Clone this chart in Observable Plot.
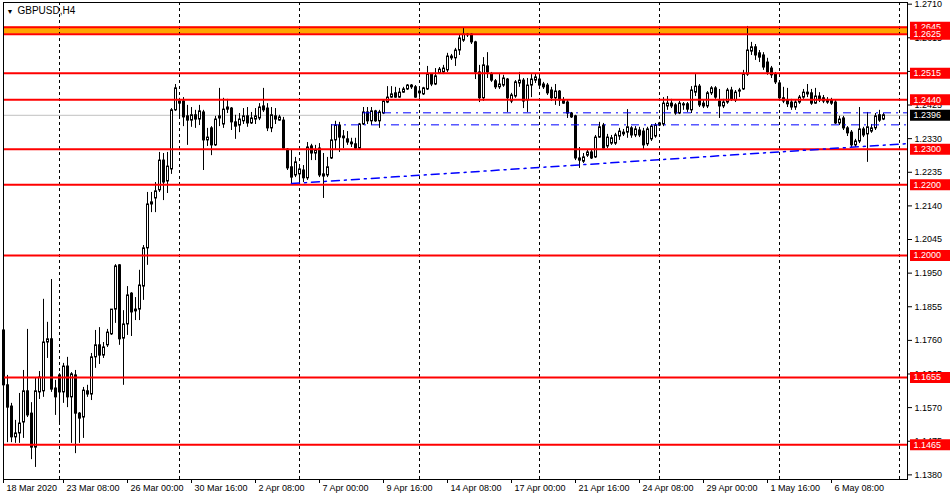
<!DOCTYPE html>
<html><head><meta charset="utf-8">
<script src="https://cdn.jsdelivr.net/npm/d3@7"></script>
<script src="https://cdn.jsdelivr.net/npm/@observablehq/plot@0.6"></script>
<style>
html,body{margin:0;padding:0;background:#fff;overflow:hidden}
</style></head><body>
<div id="chart"></div>
<script>
// ---- data (GBPUSD H4, bar index 0 = 18 Mar 2020 20:00) ----
const openArr = [1.1788,1.1633,1.1573,1.1486,1.1497,1.1528,1.1616,1.1553,1.1457,1.1613,
1.1616,1.1754,1.1763,1.1624,1.1661,1.1613,1.1686,1.1599,1.1661,1.1553,
1.1542,1.1616,1.1607,1.1712,1.1746,1.1717,1.1746,1.1777,1.1847,1.1972,
1.1765,1.1805,1.1892,1.1847,1.1847,1.1912,1.2020,1.2144,1.2161,1.2184,
1.2268,1.2209,1.2243,1.2410,1.2435,1.2435,1.2393,1.2381,1.2396,1.2384,
1.2404,1.2325,1.2359,1.2311,1.2387,1.2370,1.2418,1.2415,1.2376,1.2367,
1.2379,1.2393,1.2373,1.2384,1.2387,1.2421,1.2415,1.2359,1.2393,1.2381,
1.2381,1.2299,1.2249,1.2226,1.2229,1.2240,1.2218,1.2308,1.2288,1.2302,
1.2229,1.2226,1.2274,1.2325,1.2367,1.2336,1.2328,1.2319,1.2314,1.2302,
1.2370,1.2404,1.2379,1.2407,1.2379,1.2401,1.2432,1.2446,1.2458,1.2446,
1.2460,1.2469,1.2480,1.2475,1.2458,1.2455,1.2469,1.2511,1.2483,1.2514,
1.2517,1.2523,1.2557,1.2557,1.2579,1.2607,1.2622,1.2624,1.2602,1.2517,
1.2444,1.2534,1.2511,1.2492,1.2475,1.2480,1.2497,1.2435,1.2449,1.2486,
1.2494,1.2438,1.2480,1.2494,1.2497,1.2483,1.2480,1.2466,1.2444,1.2463,
1.2438,1.2432,1.2401,1.2393,1.2274,1.2265,1.2282,1.2291,1.2277,1.2333,
1.2367,1.2308,1.2316,1.2316,1.2336,1.2342,1.2347,1.2359,1.2339,1.2353,
1.2350,1.2314,1.2328,1.2336,1.2373,1.2370,1.2421,1.2429,1.2424,1.2401,
1.2424,1.2427,1.2410,1.2460,1.2477,1.2429,1.2421,1.2458,1.2472,1.2435,
1.2421,1.2432,1.2466,1.2438,1.2463,1.2469,1.2511,1.2576,1.2588,1.2571,
1.2565,1.2545,1.2528,1.2511,1.2486,1.2444,1.2438,1.2432,1.2418,1.2432,
1.2446,1.2460,1.2458,1.2429,1.2449,1.2444,1.2438,1.2438,1.2432,1.2373,
1.2387,1.2359,1.2347,1.2311,1.2322,1.2356,1.2342,1.2350,1.2359,1.2396,
1.2384];
const highArr = [1.1847,1.1661,1.1582,1.1534,1.1610,1.1675,1.1791,1.1584,1.1655,1.1672,
1.1876,1.1811,1.1932,1.1647,1.1666,1.1695,1.1712,1.1669,1.1675,1.1556,
1.1627,1.1633,1.1723,1.1788,1.1796,1.1754,1.1791,1.1827,1.1974,1.1974,
1.1844,1.1912,1.1895,1.1881,1.1958,1.2028,1.2178,1.2178,1.2206,1.2291,
1.2288,1.2291,1.2415,1.2483,1.2444,1.2446,1.2424,1.2418,1.2410,1.2424,
1.2410,1.2359,1.2364,1.2393,1.2472,1.2444,1.2441,1.2418,1.2396,1.2401,
1.2415,1.2418,1.2404,1.2415,1.2429,1.2472,1.2429,1.2418,1.2415,1.2396,
1.2390,1.2302,1.2297,1.2277,1.2254,1.2254,1.2319,1.2314,1.2311,1.2316,
1.2288,1.2277,1.2370,1.2379,1.2376,1.2353,1.2350,1.2331,1.2331,1.2373,
1.2418,1.2418,1.2418,1.2410,1.2410,1.2438,1.2477,1.2477,1.2475,1.2472,
1.2475,1.2483,1.2483,1.2480,1.2472,1.2475,1.2534,1.2514,1.2528,1.2531,
1.2537,1.2571,1.2568,1.2585,1.2622,1.2644,1.2627,1.2627,1.2605,1.2537,
1.2559,1.2573,1.2517,1.2497,1.2511,1.2509,1.2500,1.2458,1.2494,1.2517,
1.2500,1.2500,1.2511,1.2514,1.2509,1.2489,1.2486,1.2475,1.2483,1.2466,
1.2446,1.2438,1.2404,1.2396,1.2305,1.2288,1.2297,1.2297,1.2339,1.2376,
1.2373,1.2342,1.2339,1.2345,1.2359,1.2356,1.2412,1.2364,1.2364,1.2362,
1.2359,1.2362,1.2370,1.2373,1.2376,1.2446,1.2449,1.2441,1.2429,1.2435,
1.2432,1.2432,1.2477,1.2511,1.2483,1.2438,1.2463,1.2477,1.2477,1.2469,
1.2441,1.2472,1.2475,1.2466,1.2472,1.2523,1.2647,1.2602,1.2596,1.2579,
1.2573,1.2557,1.2534,1.2517,1.2489,1.2475,1.2472,1.2441,1.2438,1.2452,
1.2469,1.2483,1.2469,1.2472,1.2460,1.2452,1.2446,1.2444,1.2438,1.2393,
1.2393,1.2364,1.2353,1.2328,1.2418,1.2362,1.2404,1.2370,1.2401,1.2410,
1.2401];
const lowArr = [1.1443,1.1471,1.1471,1.1469,1.1469,1.1483,1.1542,1.1423,1.1401,1.1593,
1.1599,1.1709,1.1613,1.1548,1.1520,1.1582,1.1570,1.1469,1.1440,1.1469,
1.1483,1.1599,1.1590,1.1681,1.1692,1.1709,1.1740,1.1774,1.1808,1.1746,
1.1633,1.1774,1.1771,1.1816,1.1816,1.1873,1.1972,1.2121,1.2121,1.2178,
1.2155,1.2175,1.2229,1.2407,1.2387,1.2364,1.2311,1.2362,1.2359,1.2367,
1.2240,1.2308,1.2282,1.2308,1.2364,1.2359,1.2401,1.2353,1.2328,1.2347,
1.2370,1.2362,1.2370,1.2370,1.2381,1.2404,1.2350,1.2347,1.2370,1.2379,
1.2297,1.2240,1.2203,1.2220,1.2203,1.2206,1.2212,1.2268,1.2268,1.2220,
1.2161,1.2220,1.2271,1.2297,1.2291,1.2302,1.2311,1.2305,1.2297,1.2299,
1.2367,1.2370,1.2367,1.2376,1.2359,1.2398,1.2429,1.2444,1.2444,1.2444,
1.2458,1.2466,1.2469,1.2444,1.2444,1.2452,1.2466,1.2477,1.2480,1.2511,
1.2511,1.2517,1.2551,1.2534,1.2565,1.2602,1.2616,1.2596,1.2497,1.2432,
1.2435,1.2500,1.2489,1.2469,1.2469,1.2475,1.2404,1.2429,1.2444,1.2475,
1.2415,1.2404,1.2446,1.2486,1.2475,1.2469,1.2452,1.2435,1.2424,1.2421,
1.2427,1.2387,1.2387,1.2268,1.2246,1.2260,1.2277,1.2271,1.2274,1.2331,
1.2297,1.2302,1.2311,1.2311,1.2325,1.2336,1.2331,1.2331,1.2333,1.2333,
1.2297,1.2308,1.2322,1.2331,1.2364,1.2364,1.2410,1.2415,1.2396,1.2398,
1.2410,1.2404,1.2401,1.2449,1.2418,1.2415,1.2415,1.2452,1.2441,1.2387,
1.2415,1.2427,1.2435,1.2432,1.2446,1.2466,1.2506,1.2565,1.2551,1.2545,
1.2523,1.2509,1.2500,1.2483,1.2438,1.2429,1.2418,1.2410,1.2410,1.2427,
1.2441,1.2446,1.2424,1.2427,1.2432,1.2429,1.2427,1.2424,1.2370,1.2367,
1.2353,1.2336,1.2305,1.2305,1.2316,1.2333,1.2263,1.2345,1.2353,1.2376,
1.2381];
const closeArr = [1.1633,1.1570,1.1486,1.1497,1.1525,1.1616,1.1548,1.1457,1.1616,1.1655,
1.1754,1.1763,1.1621,1.1599,1.1613,1.1686,1.1599,1.1664,1.1553,1.1539,
1.1618,1.1607,1.1712,1.1746,1.1717,1.1740,1.1782,1.1847,1.1969,1.1763,
1.1805,1.1887,1.1839,1.1842,1.1915,1.2020,1.2144,1.2150,1.2181,1.2268,
1.2206,1.2251,1.2410,1.2472,1.2429,1.2390,1.2381,1.2396,1.2384,1.2407,
1.2325,1.2333,1.2311,1.2384,1.2393,1.2412,1.2412,1.2376,1.2364,1.2384,
1.2393,1.2373,1.2387,1.2393,1.2418,1.2410,1.2359,1.2396,1.2384,1.2390,
1.2302,1.2246,1.2220,1.2263,1.2243,1.2218,1.2305,1.2288,1.2297,1.2226,
1.2223,1.2249,1.2325,1.2367,1.2333,1.2331,1.2319,1.2314,1.2302,1.2370,
1.2404,1.2379,1.2407,1.2379,1.2404,1.2435,1.2446,1.2455,1.2446,1.2460,
1.2469,1.2480,1.2475,1.2446,1.2463,1.2472,1.2511,1.2483,1.2506,1.2525,
1.2528,1.2562,1.2562,1.2579,1.2613,1.2624,1.2624,1.2602,1.2517,1.2444,
1.2537,1.2517,1.2494,1.2475,1.2483,1.2500,1.2444,1.2452,1.2489,1.2494,
1.2435,1.2480,1.2497,1.2503,1.2480,1.2475,1.2458,1.2444,1.2463,1.2438,
1.2429,1.2401,1.2390,1.2274,1.2268,1.2277,1.2291,1.2274,1.2333,1.2362,
1.2302,1.2333,1.2331,1.2339,1.2350,1.2347,1.2362,1.2339,1.2356,1.2339,
1.2311,1.2356,1.2364,1.2367,1.2367,1.2429,1.2429,1.2421,1.2401,1.2429,
1.2427,1.2412,1.2466,1.2477,1.2424,1.2421,1.2458,1.2472,1.2446,1.2421,
1.2432,1.2466,1.2441,1.2460,1.2466,1.2511,1.2579,1.2588,1.2565,1.2559,
1.2531,1.2517,1.2509,1.2489,1.2444,1.2435,1.2427,1.2418,1.2432,1.2446,
1.2460,1.2455,1.2429,1.2449,1.2438,1.2435,1.2432,1.2429,1.2373,1.2384,
1.2359,1.2345,1.2311,1.2322,1.2356,1.2339,1.2362,1.2359,1.2393,1.2381,
1.2396];

const timeLabels = ["18 Mar 2020","23 Mar 08:00","26 Mar 00:00","30 Mar 16:00","2 Apr 08:00",
  "7 Apr 00:00","9 Apr 16:00","14 Apr 08:00","17 Apr 00:00","21 Apr 16:00",
  "24 Apr 08:00","29 Apr 00:00","1 May 16:00","6 May 08:00"];
const timeLabelBars = [0,15,31,47,63,79,95,111,127,143,159,175,191,207];
const gridBars = [14,44,74,104,134,164,194,224];
const priceTicks = [1.1380,1.1475,1.1570,1.1665,1.1760,1.1855,1.1950,1.2045,1.2140,
  1.2235,1.2330,1.2425,1.2520,1.2615,1.2710];
const redLevels = [1.2645,1.2625,1.2515,1.2440,1.2300,1.2200,1.2000,1.1655,1.1465];
const zoneLevels = [1.2625,1.2645];
const currentPrice = 1.2396;
const rayStartBars = [90,82];
const rayLevels = [1.2403,1.2369];
const trendBars = [72,226];
const trendPrices = [1.2203,1.2316];
const symbolTitle = "GBPUSD,H4";

// ---- build ----
const bars = openArr.map((o,i)=>({i, open:o, high:highArr[i], low:lowArr[i], close:closeArr[i]}));
const bull = bars.filter(d=>d.close>=d.open);
const bear = bars.filter(d=>d.close<d.open);
const rays = rayLevels.map((v,k)=>({y:v, x1:rayStartBars[k]}));
const trend = trendBars.map((b,k)=>({x:b, y:trendPrices[k]}));

const xEnd = 226;            // right edge of the price area (bar units)
const boxFrom = 226.75, boxTo = 237.5;
const dash = "8,5,2,5";
// body half-widths in bar units (rect marks are not half-pixel offset, rules are)
const bodyL = 0.125, bodyR = 0.375;

const labelMarks = [];
for (const lv of redLevels) {
  labelMarks.push(Plot.ruleY([lv], {x1: boxFrom, x2: boxTo, stroke: "#ff0000", strokeWidth: 11}));
  labelMarks.push(Plot.text([lv], {y: d=>d, x: boxFrom, dx: 3, text: d=>d.toFixed(4), textAnchor: "start", fill: "white", fontSize: 9}));
}
labelMarks.push(Plot.ruleY([currentPrice], {x1: boxFrom, x2: boxTo, stroke: "black", strokeWidth: 11}));
labelMarks.push(Plot.text([currentPrice], {y: d=>d, x: boxFrom, dx: 3, text: d=>d.toFixed(4), textAnchor: "start", fill: "white", fontSize: 9}));

const chart = Plot.plot({
  width: 950, height: 500,
  marginTop: 2, marginBottom: 21, marginLeft: 3, marginRight: 43,
  x: {type: "linear", domain: [0, xEnd]},
  y: {type: "linear", domain: [1.13669, 1.27147]},
  style: {fontFamily: "'Liberation Sans', Arial, sans-serif", fontSize: "9px", background: "white", color: "black", overflow: "visible"},
  marks: [
    Plot.rect([zoneLevels], {y1: d=>d[0], y2: d=>d[1], fill: "#ffa500"}),
    Plot.ruleX(gridBars, {x: d=>d, stroke: "black", strokeDasharray: "3,3"}),
    Plot.ruleY([currentPrice], {stroke: "#c0c0c0"}),
    Plot.ruleX(bars, {x: "i", y1: "low", y2: "high", stroke: "black", strokeWidth: 1}),
    Plot.rect(bull, {x1: d=>d.i-bodyL, x2: d=>d.i+bodyR, y1: "open", y2: "close", fill: "white", stroke: "black", strokeWidth: 1}),
    Plot.rect(bear, {x1: d=>d.i-bodyL, x2: d=>d.i+bodyR, y1: "open", y2: "close", fill: "black", stroke: "black", strokeWidth: 1}),
    Plot.ruleY(redLevels, {y: d=>d, stroke: "#ff0000", strokeWidth: 2}),
    Plot.ruleY(rays, {y: "y", x1: "x1", x2: xEnd, stroke: "#0000ff", strokeDasharray: dash}),
    Plot.line(trend, {x: "x", y: "y", stroke: "#0000ff", strokeDasharray: dash}),
    Plot.frame({stroke: "black"}),
    Plot.axisY({anchor: "right", ticks: priceTicks, tickFormat: d=>d.toFixed(4), tickSize: 4, tickPadding: 3, fontSize: 9}),
    Plot.axisX({anchor: "bottom", ticks: timeLabelBars, tickFormat: () => "", tickSize: 4}),
    Plot.text(timeLabelBars, {x: d=>d, text: (d,k)=>timeLabels[k], frameAnchor: "bottom", dy: 9, dx: 3, textAnchor: "start", lineAnchor: "middle", fontSize: 9}),
    ...labelMarks,
    Plot.text(["\u25BC"], {frameAnchor: "top-left", dx: 6.5, dy: 9, fontSize: 7, textAnchor: "middle", lineAnchor: "middle"}),
    Plot.text([symbolTitle], {frameAnchor: "top-left", dx: 14, dy: 8.5, textAnchor: "start", lineAnchor: "middle", fontSize: 10})
  ]
});
document.getElementById("chart").appendChild(chart);
</script>
</body></html>
